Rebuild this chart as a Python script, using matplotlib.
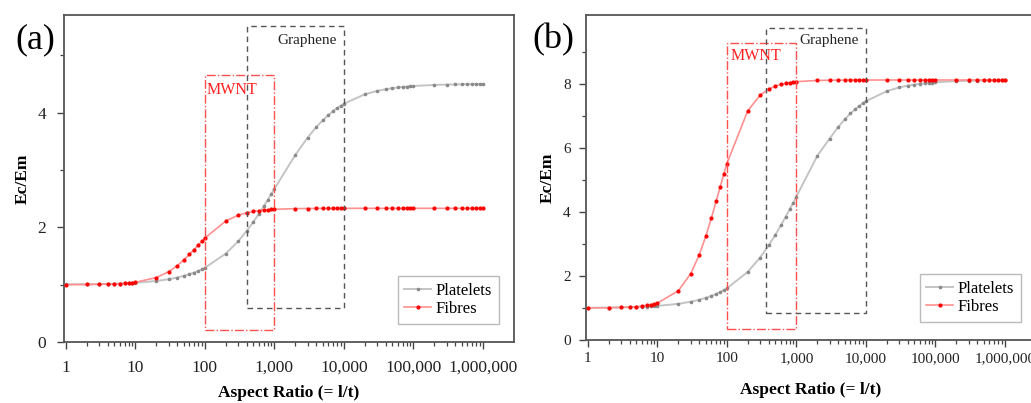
import matplotlib
matplotlib.use("Agg")
from matplotlib import pyplot as plt
from matplotlib import patches as patches
from matplotlib.ticker import FixedLocator, NullFormatter

# aspect ratios (l/t) at which the curves were sampled
aspect = [1, 2, 3, 4, 5, 6, 7, 8, 9,
          10, 20, 30, 40, 50, 60, 70, 80, 90,
          100, 200, 300, 400, 500, 600, 700, 800, 900,
          1000, 2000, 3000, 4000, 5000, 6000, 7000, 8000, 9000,
          10000, 20000, 30000, 40000, 50000, 60000, 70000, 80000, 90000,
          100000, 200000, 300000, 400000, 500000, 600000, 700000, 800000, 900000,
          1000000]

# panel (a)
a_platelets = [1.003, 1.006, 1.010, 1.013, 1.016, 1.019, 1.022, 1.026, 1.029,
               1.032, 1.063, 1.094, 1.124, 1.154, 1.182, 1.211, 1.238, 1.266,
               1.294, 1.541, 1.753, 1.936, 2.097, 2.237, 2.364, 2.477, 2.577,
               2.670, 3.260, 3.562, 3.747, 3.869, 3.958, 4.025, 4.078, 4.119,
               4.153, 4.318, 4.376, 4.406, 4.425, 4.437, 4.446, 4.452, 4.457,
               4.462, 4.481, 4.487, 4.490, 4.492, 4.494, 4.495, 4.495, 4.496,
               4.496]
a_fibres = [1.001, 1.003, 1.005, 1.009, 1.013, 1.017, 1.023, 1.028, 1.034,
            1.041, 1.123, 1.224, 1.330, 1.433, 1.527, 1.612, 1.687, 1.753,
            1.811, 2.110, 2.209, 2.253, 2.276, 2.290, 2.299, 2.305, 2.310,
            2.313, 2.325, 2.327, 2.328, 2.329, 2.329, 2.329, 2.330, 2.330,
            2.330, 2.330, 2.330, 2.330, 2.330, 2.330, 2.330, 2.330, 2.330,
            2.330, 2.330, 2.330, 2.330, 2.330, 2.330, 2.330, 2.330, 2.330,
            2.330]

# panel (b)
b_platelets = [1.006, 1.013, 1.019, 1.026, 1.033, 1.039, 1.046, 1.052, 1.059,
               1.065, 1.130, 1.193, 1.256, 1.318, 1.379, 1.438, 1.497, 1.554,
               1.611, 2.130, 2.573, 2.957, 3.292, 3.586, 3.847, 4.081, 4.289,
               4.478, 5.753, 6.288, 6.654, 6.899, 7.075, 7.205, 7.307, 7.388,
               7.456, 7.773, 7.886, 7.943, 7.978, 8.002, 8.018, 8.031, 8.040,
               8.049, 8.084, 8.096, 8.102, 8.105, 8.108, 8.110, 8.111, 8.112,
               8.113]
b_fibres = [1.002, 1.007, 1.016, 1.027, 1.042, 1.058, 1.078, 1.100, 1.125,
            1.152, 1.536, 2.064, 2.656, 3.255, 3.816, 4.327, 4.777, 5.169,
            5.509, 7.162, 7.642, 7.835, 7.931, 7.985, 8.019, 8.041, 8.057,
            8.068, 8.106, 8.113, 8.116, 8.117, 8.118, 8.118, 8.119, 8.119,
            8.119, 8.120, 8.120, 8.120, 8.120, 8.120, 8.120, 8.120, 8.120,
            8.120, 8.120, 8.120, 8.120, 8.120, 8.120, 8.120, 8.120, 8.120,
            8.120]

xticks = [1, 10, 100, 1000, 10000, 100000, 1000000]
xticklabels = ["1", "10", "100", "1,000", "10,000", "100,000", "1,000,000"]

# region boxes: (x0, x1, y0, y1)
a_mwnt = (100, 1000, 0.21, 4.66)
a_graphene = (400, 10000, 0.59, 5.51)
b_mwnt = (100, 1000, 0.34, 9.28)
b_graphene = (360, 10000, 0.85, 9.75)

plt.rcParams["font.family"] = ["Liberation Serif", "DejaVu Serif"]
plt.rcParams["axes.linewidth"] = 1.3
plt.rcParams["axes.edgecolor"] = "#555555"

fig = plt.figure(figsize=(10.31, 4.03), dpi=100)

grey_line = "#c4c4c4"
grey_mark = "#8a8a8a"
red_line = "#ff9090"
red_mark = "#ff0000"


def draw_panel(ax, plate, fibre, ymax, yticks, yminor, mwnt, graphene,
               mwnt_txt, gr_txt, tick_fs, pad_x, pad_y, legend_fs):
    ax.plot(aspect, plate, color=grey_line, lw=1.4, marker="o", ms=1.6,
            mfc=grey_mark, mec=grey_mark, label="Platelets", zorder=3)
    ax.plot(aspect, fibre, color=red_line, lw=1.2, marker="o", ms=2.0,
            mfc=red_mark, mec=red_mark, label="Fibres", zorder=4)
    ax.set_xscale("log")
    ax.set_xlim(0.94, 2.8e6)
    ax.set_ylim(0, ymax)
    ax.xaxis.set_major_locator(FixedLocator(xticks))
    ax.set_xticklabels(xticklabels)
    minors = [m * 10 ** d for d in range(6) for m in range(2, 10)]
    ax.xaxis.set_minor_locator(FixedLocator(minors))
    ax.xaxis.set_minor_formatter(NullFormatter())
    ax.set_yticks(yticks)
    ax.yaxis.set_minor_locator(FixedLocator(yminor))
    ax.tick_params(which="major", direction="out", length=5, width=1.0,
                   color="#444444", labelsize=tick_fs, labelcolor="#222222")
    ax.tick_params(which="minor", direction="out", length=3, width=0.9,
                   color="#444444")
    ax.tick_params(axis="x", which="major", pad=pad_x)
    ax.tick_params(axis="y", which="major", pad=pad_y)

    x0, x1, y0, y1 = mwnt
    ax.add_patch(patches.Rectangle((x0, y0), x1 - x0, y1 - y0, fill=False,
                                   ec="#ff5050", lw=1.0, ls="-.", zorder=5))
    x0, x1, y0, y1 = graphene
    ax.add_patch(patches.Rectangle((x0, y0), x1 - x0, y1 - y0, fill=False,
                                   ec="#555555", lw=1.0, ls=(0, (4, 3)), zorder=5))
    ax.text(*mwnt_txt, "MWNT", color="#ff2020", fontsize=11.5, va="center")
    ax.text(*gr_txt, "Graphene", color="#222222", fontsize=11, va="center")

    ax.set_xlabel("Aspect Ratio (= l/t)", fontsize=12.5, fontweight="bold")
    ax.set_ylabel("Ec/Em", fontsize=12.5, fontweight="bold")
    leg = ax.legend(loc="lower right", fontsize=legend_fs, frameon=True,
                    fancybox=False, edgecolor="#aaaaaa", numpoints=1,
                    handlelength=1.6, handletextpad=0.3, borderpad=0.4,
                    labelspacing=0.15, bbox_to_anchor=(0.985, 0.03))
    leg.get_frame().set_linewidth(1.0)


ax1 = fig.add_axes([64 / 1031, 1 - 342 / 403, 450 / 1031, 327 / 403])
draw_panel(ax1, a_platelets, a_fibres, 5.7, [0, 2, 4], [1, 3, 5],
           a_mwnt, a_graphene, (105, 4.4), (1120, 5.25), 12.5, 8, 8, 12)
ax1.yaxis.set_label_coords(-0.073, 0.5)
ax1.xaxis.set_label_coords(0.5, -0.13)

ax2 = fig.add_axes([586 / 1031, 1 - 340 / 403, 450 / 1031, 325 / 403])
draw_panel(ax2, b_platelets, b_fibres, 10.15, [0, 2, 4, 6, 8], [1, 3, 5, 7, 9],
           b_mwnt, b_graphene, (113, 8.87), (1120, 9.34), 11, 4, 6, 12)
ax2.yaxis.set_label_coords(-0.067, 0.5)
ax2.xaxis.set_label_coords(0.5, -0.13)

fig.text(35 / 1031, 1 - 40 / 403, "(a)", fontsize=26, ha="center", va="center")
fig.text(553 / 1031, 1 - 40 / 403, "(b)", fontsize=26, ha="center", va="center")

plt.savefig("out.png", dpi=100)
